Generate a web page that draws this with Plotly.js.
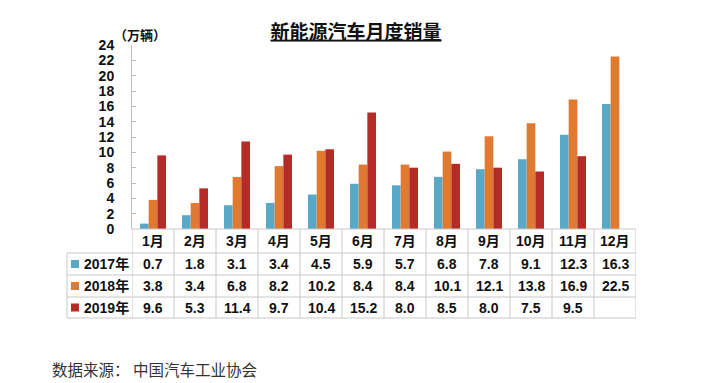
<!DOCTYPE html>
<html><head><meta charset="utf-8">
<script src="https://cdn.plot.ly/plotly-3.0.1.min.js"></script>
<style>html,body{margin:0;padding:0;background:#fff;}#chart{width:701px;height:383px;}</style>
</head><body><div id="chart"></div>
<script>
const months = ['1月','2月','3月','4月','5月','6月','7月','8月','9月','10月','11月','12月'];
const seriesNames = ['2017年','2018年','2019年'];
const sales2017 = [0.7,1.8,3.1,3.4,4.5,5.9,5.7,6.8,7.8,9.1,12.3,16.3];
const sales2018 = [3.8,3.4,6.8,8.2,10.2,8.4,8.4,10.1,12.1,13.8,16.9,22.5];
const sales2019 = [9.6,5.3,11.4,9.7,10.4,15.2,8.0,8.5,8.0,7.5,9.5,null];
const yTicks = [0,2,4,6,8,10,12,14,16,18,20,22,24];
const colors = ['#58A9C8','#E07A30','#B52B27'];

const W=701,H=383,L=132,R=636,T=45,B=229;
const py = p => (B-p)/(B-T);
const px = p => (p-L)/(R-L);
const FONT = 'Liberation Sans, Arial, Noto Sans CJK SC, sans-serif';
const allSeries=[sales2017,sales2018,sales2019];

const traces = allSeries.map((v,i)=>({
  type:'bar', x:months, y:v, name:seriesNames[i],
  marker:{color:colors[i]}, showlegend:false, hoverinfo:'skip'
}));

const grid='#C8C8C8';
const shapes=[];
const annotations=[];
const rowTops=[229,253,275,297,318];
shapes.push({type:'line',xref:'paper',yref:'paper',x0:0,x1:1,y0:py(229),y1:py(229),line:{color:grid,width:1}});
for(let r=1;r<rowTops.length;r++){
  shapes.push({type:'line',xref:'paper',yref:'paper',x0:px(67),x1:1,y0:py(rowTops[r]),y1:py(rowTops[r]),line:{color:grid,width:1}});
}
for(let i=0;i<=months.length;i++){
  shapes.push({type:'line',xref:'x',yref:'paper',x0:i-0.5,x1:i-0.5,y0:py(229),y1:py(318),line:{color:grid,width:1}});
}
shapes.push({type:'line',xref:'paper',yref:'paper',x0:px(67),x1:px(67),y0:py(253),y1:py(318),line:{color:grid,width:1}});

const cellFont={family:FONT,size:14,color:'#111',weight:'bold'};
months.forEach((m,i)=>{
  annotations.push({xref:'x',yref:'paper',x:i,y:py(241),text:m,showarrow:false,font:cellFont,xanchor:'center',yanchor:'middle'});
});
allSeries.forEach((v,s)=>{
  const yc=(rowTops[s+1]+rowTops[s+2])/2;
  v.forEach((val,i)=>{
    if(val===null) return;
    annotations.push({xref:'x',yref:'paper',x:i,y:py(yc),text:val.toFixed(1),showarrow:false,font:cellFont,xanchor:'center',yanchor:'middle'});
  });
  annotations.push({xref:'paper',yref:'paper',x:px(82),y:py(yc),text:seriesNames[s],showarrow:false,font:cellFont,xanchor:'left',yanchor:'middle'});
  shapes.push({type:'rect',xref:'paper',yref:'paper',x0:px(71),x1:px(79),y0:py(yc-4),y1:py(yc+4),fillcolor:colors[s],line:{width:0}});
});
annotations.push({xref:'paper',yref:'paper',x:px(112),y:py(35),text:'（万辆）',showarrow:false,font:{family:FONT,size:13,color:'#111',weight:'bold'},xanchor:'left',yanchor:'middle'});
annotations.push({xref:'paper',yref:'paper',x:px(50),y:py(369),text:'数据来源： 中国汽车工业协会',showarrow:false,font:{family:'Noto Sans CJK SC, sans-serif',size:15.5,color:'#333'},xanchor:'left',yanchor:'middle'});

const layout={
  width:W,height:H,
  margin:{l:L,r:W-R,t:T,b:H-B,pad:0},
  paper_bgcolor:'#fff',plot_bgcolor:'#fff',
  title:{text:'<u>新能源汽车月度销量</u>',x:356/W,xanchor:'center',y:1-32/H,yanchor:'middle',
    font:{family:'Noto Sans CJK SC, sans-serif',size:19,color:'#111',weight:'bold'}},
  barmode:'group',bargap:0.38,bargroupgap:0,
  xaxis:{type:'category',range:[-0.5,11.5],showticklabels:false,ticks:'',showline:false,showgrid:false,zeroline:false,fixedrange:true},
  yaxis:{range:[0,24],tickvals:yTicks,ticktext:yTicks.map(String),showgrid:false,zeroline:false,
    showline:true,linecolor:'#BDBDBD',linewidth:1,ticks:'inside',ticklen:4,tickcolor:'#BDBDBD',
    ticklabelstandoff:14,tickfont:{family:FONT,size:14,color:'#111',weight:'bold'}},
  shapes:shapes,annotations:annotations,showlegend:false
};
Plotly.newPlot('chart',traces,layout,{staticPlot:true,displayModeBar:false});
</script></body></html>
